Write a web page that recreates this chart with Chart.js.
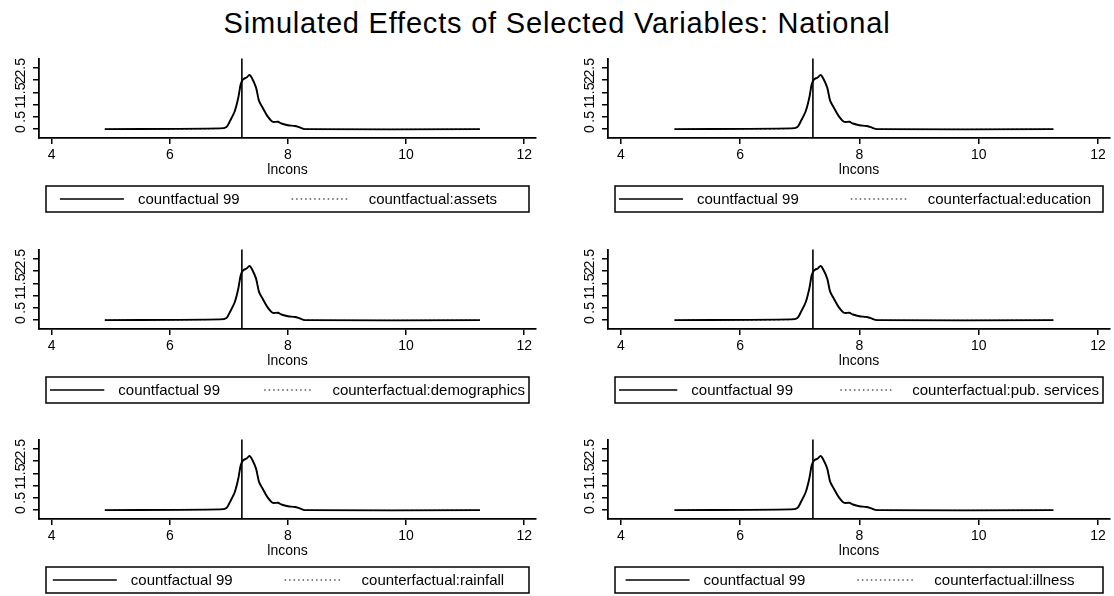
<!DOCTYPE html>
<html>
<head>
<meta charset="utf-8">
<script src="https://cdn.jsdelivr.net/npm/chart.js@4.4.1/dist/chart.umd.min.js"></script>
<style>
  html, body { margin: 0; padding: 0; background: #fff; }
  body { width: 1114px; height: 596px; position: relative; overflow: hidden; font-family: "Liberation Sans", Arial, sans-serif; }
  #title { position: absolute; left: 0; top: 7px; width: 1114px; text-align: center; font-size: 29px; line-height: 32px; letter-spacing: 0.8px; color: #000; }
  canvas { position: absolute; }
</style>
</head>
<body>
<div id="title">Simulated Effects of Selected Variables: National</div>
<script>
// kernel density of lncons
const xGrid = [4.9, 6.85, 6.96, 7.02, 7.10, 7.16, 7.20, 7.24, 7.30, 7.35, 7.40, 7.46, 7.51, 7.57, 7.65, 7.74, 7.83, 7.89, 8.00, 8.12, 8.20, 8.29, 11.25];
const base99 = [0, 0.03, 0.09, 0.34, 0.74, 1.29, 1.83, 2.03, 2.10, 2.21, 2.03, 1.69, 1.15, 0.88, 0.54, 0.30, 0.30, 0.23, 0.16, 0.13, 0.07, 0, 0];

const cfAssets       = [0, 0.02, 0.08, 0.31, 0.71, 1.26, 1.85, 2.06, 2.12, 2.22, 2.05, 1.71, 1.17, 0.89, 0.55, 0.31, 0.31, 0.23, 0.17, 0.12, 0.06, 0, 0];
const cfEducation    = [0, 0.02, 0.08, 0.32, 0.72, 1.27, 1.84, 2.05, 2.11, 2.22, 2.04, 1.70, 1.16, 0.89, 0.55, 0.31, 0.30, 0.23, 0.16, 0.12, 0.06, 0, 0];
const cfDemographics = [0, 0.03, 0.09, 0.33, 0.73, 1.28, 1.84, 2.04, 2.11, 2.21, 2.04, 1.70, 1.16, 0.88, 0.54, 0.30, 0.30, 0.23, 0.16, 0.13, 0.07, 0, 0];
const cfPubServices  = [0, 0.02, 0.08, 0.32, 0.72, 1.27, 1.85, 2.05, 2.12, 2.23, 2.05, 1.71, 1.17, 0.89, 0.55, 0.31, 0.31, 0.23, 0.16, 0.12, 0.06, 0, 0];
const cfRainfall     = [0, 0.03, 0.09, 0.33, 0.74, 1.28, 1.83, 2.04, 2.10, 2.21, 2.03, 1.69, 1.15, 0.88, 0.54, 0.30, 0.30, 0.23, 0.16, 0.13, 0.07, 0, 0];
const cfIllness      = [0, 0.03, 0.09, 0.34, 0.74, 1.29, 1.83, 2.03, 2.10, 2.21, 2.03, 1.69, 1.15, 0.88, 0.54, 0.30, 0.30, 0.23, 0.16, 0.13, 0.07, 0, 0];

const baseLabel = 'countfactual 99';
const cfLabels = ['countfactual:assets', 'counterfactual:education', 'counterfactual:demographics',
                  'counterfactual:pub. services', 'counterfactual:rainfall', 'counterfactual:illness'];
const cfSeries = [cfAssets, cfEducation, cfDemographics, cfPubServices, cfRainfall, cfIllness];

const refLine = 7.22;
const xTicks = [4, 6, 8, 10, 12];
const yTicks = [0, 0.5, 1, 1.5, 2, 2.5];
const yTickLabels = ['0', '.5', '1', '1.5', '2', '2.5'];
const xTitle = 'lncons';

const FONT = '"Liberation Sans", Arial, sans-serif';
Chart.defaults.font.family = FONT;
Chart.defaults.color = '#000';

// vertical reference line at the mean
const refLinePlugin = {
  id: 'refLine',
  afterDatasetsDraw(chart) {
    const { ctx, chartArea: ca, scales } = chart;
    const x = scales.x.getPixelForValue(refLine);
    ctx.save();
    ctx.strokeStyle = '#000';
    ctx.lineWidth = 1.6;
    ctx.beginPath();
    ctx.moveTo(x, ca.top);
    ctx.lineTo(x, ca.bottom);
    ctx.stroke();
    ctx.restore();
  }
};

// Stata-style boxed legend under the axis title
const boxLegend = {
  id: 'boxLegend',
  afterDraw(chart) {
    const { ctx, chartArea: ca } = chart;
    const ds = chart.data.datasets;
    const top = ca.bottom + 48, h = 26;
    const boxL = ca.left + 7, boxW = ca.right - ca.left - 14;
    ctx.save();
    ctx.strokeStyle = '#000';
    ctx.lineWidth = 1.5;
    ctx.strokeRect(boxL, top, boxW, h);
    ctx.font = '15px ' + FONT;
    ctx.fillStyle = '#000';
    ctx.textBaseline = 'middle';
    const w1 = ctx.measureText(ds[0].label).width;
    const w2 = ctx.measureText(ds[1].label).width;
    let L1 = 64, gapB = 52, L2 = 58;
    const gapA = 14, gapC = 19;
    const total = () => L1 + gapA + w1 + gapB + L2 + gapC + w2;
    const avail = boxW - 8;
    if (total() > avail) {
      const k = 1 - (total() - avail) / (L1 + gapB + L2);
      L1 *= k; gapB *= k; L2 *= k;
    }
    let x = Math.max(boxL + 4, boxL + boxW / 2 - 9 - total() / 2);
    const y = top + h / 2;
    ctx.lineWidth = 1.5;
    ctx.beginPath(); ctx.moveTo(x, y); ctx.lineTo(x + L1, y); ctx.stroke();
    x += L1 + gapA;
    ctx.fillText(ds[0].label, x, y + 1);
    x += w1 + gapB;
    ctx.lineWidth = 1.2;
    ctx.setLineDash(ds[1].borderDash);
    ctx.beginPath(); ctx.moveTo(x, y); ctx.lineTo(x + L2, y); ctx.stroke();
    ctx.setLineDash([]);
    x += L2 + gapC;
    ctx.fillText(ds[1].label, x, y + 1);
    ctx.restore();
  }
};

const rowTops = [48, 238.5, 429];
const colLefts = [0, 557];

cfSeries.forEach((cf, i) => {
  const col = i % 2, row = Math.floor(i / 2);
  const canvas = document.createElement('canvas');
  canvas.width = 557; canvas.height = 166;
  canvas.style.left = colLefts[col] + 'px';
  canvas.style.top = rowTops[row] + 'px';
  document.body.appendChild(canvas);

  new Chart(canvas, {
    type: 'line',
    data: {
      datasets: [
        { label: baseLabel, data: xGrid.map((x, k) => ({ x, y: base99[k] })),
          borderColor: '#000', borderWidth: 1.9, pointRadius: 0, tension: 0.3, fill: false },
        { label: cfLabels[i], data: xGrid.map((x, k) => ({ x, y: cf[k] })),
          borderColor: '#000', borderWidth: 1, borderDash: [1.5, 3], pointRadius: 0, tension: 0.3, fill: false }
      ]
    },
    options: {
      responsive: false, animation: false, devicePixelRatio: 1, events: [],
      layout: { padding: { top: 10, bottom: 34, left: col ? 12 : 0, right: col ? 4 : 21 } },
      plugins: { legend: { display: false }, tooltip: { enabled: false } },
      scales: {
        x: {
          type: 'linear', min: 3.785, max: 12.2,
          afterBuildTicks: s => { s.ticks = xTicks.map(v => ({ value: v })); },
          afterFit: s => { s.height = 42; },
          grid: { drawOnChartArea: false, drawTicks: true, tickLength: 6, color: '#000', lineWidth: 1.5 },
          border: { display: true, color: '#000', width: 1.8 },
          ticks: { font: { size: 14 }, padding: 3, maxRotation: 0, autoSkip: false },
          title: { display: true, text: xTitle, font: { size: 14 }, padding: { top: 0, bottom: 1 } }
        },
        y: {
          min: -0.36, max: 2.88,
          afterBuildTicks: s => { s.ticks = yTicks.map(v => ({ value: v })); },
          afterFit: s => { s.width = 39; },
          grid: { drawOnChartArea: false, drawTicks: true, tickLength: 6, color: '#000', lineWidth: 1.5 },
          border: { display: true, color: '#000', width: 1.8 },
          ticks: {
            font: { size: 14 }, padding: 2, minRotation: 90, maxRotation: 90, crossAlign: 'center', autoSkip: false,
            callback: v => yTickLabels[yTicks.indexOf(v)]
          }
        }
      }
    },
    plugins: [refLinePlugin, boxLegend]
  });
});
</script>
</body>
</html>
